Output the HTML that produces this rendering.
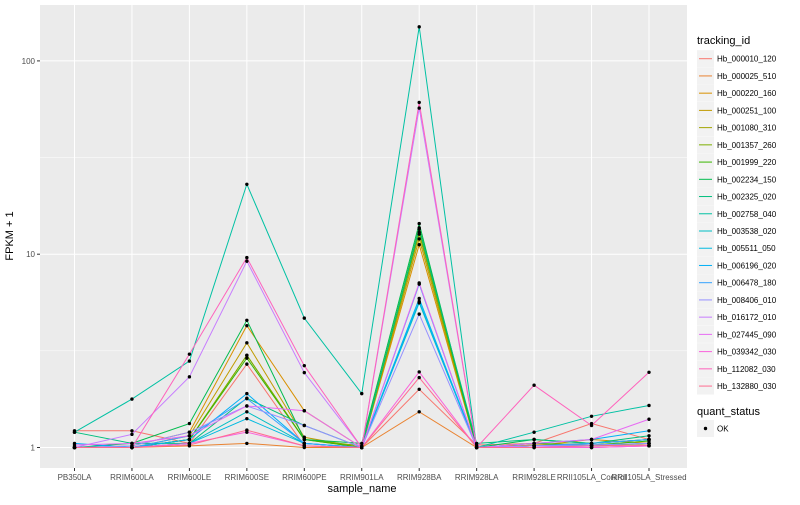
<!DOCTYPE html>
<html><head><meta charset="utf-8"><style>
body{margin:0;background:#fff;font-family:"Liberation Sans",sans-serif}
</style></head><body>
<svg id="chart" width="800" height="500" xmlns="http://www.w3.org/2000/svg" font-family="Liberation Sans, sans-serif">
<rect x="40" y="5" width="647" height="463" fill="#EBEBEB"/>
<g id="grid"></g><g id="lines"></g><g id="pts"></g><g id="axes"></g><g id="legend"></g>
<text x="13" y="236" transform="rotate(-90 13 236)" text-anchor="middle" font-size="11">FPKM + 1</text>
<text x="362" y="492" text-anchor="middle" font-size="11">sample_name</text>
</svg>
<script>
const categories=["PB350LA","RRIM600LA","RRIM600LE","RRIM600SE","RRIM600PE","RRIM901LA","RRIM928BA","RRIM928LA","RRIM928LE","RRII105LA_Control","RRII105LA_Stressed"];
const seriesNames=["Hb_000010_120","Hb_000025_510","Hb_000220_160","Hb_000251_100","Hb_001080_310","Hb_001357_260","Hb_001999_220","Hb_002234_150","Hb_002325_020","Hb_002758_040","Hb_003538_020","Hb_005511_050","Hb_006196_020","Hb_006478_180","Hb_008406_010","Hb_016172_010","Hb_027445_090","Hb_039342_030","Hb_112082_030","Hb_132880_030"];
const colors=["#F8766D","#EA8331","#D89000","#C09B00","#A3A500","#7CAE00","#39B600","#00BB4E","#00BF7D","#00C1A3","#00BFC4","#00BAE0","#00B0F6","#35A2FF","#9590FF","#C77CFF","#E76BF3","#FA62DB","#FF62BC","#FF6C91"];
const s0=[1.22,1.22,1.05,2.7,1.02,1.0,2.0,1.03,1.05,1.33,1.1];
const s1=[1.0,1.0,1.02,1.05,1.0,1.0,1.53,1.0,1.0,1.0,1.02];
const s2=[1.0,1.02,1.2,4.27,1.55,1.0,11.2,1.0,1.02,1.1,1.05];
const s3=[1.0,1.0,1.15,3.48,1.13,1.0,12.0,1.0,1.03,1.05,1.1];
const s4=[1.0,1.0,1.1,3.0,1.1,1.0,12.7,1.0,1.02,1.02,1.05];
const s5=[1.0,1.0,1.1,3.0,1.1,1.02,13.0,1.0,1.02,1.02,1.05];
const s6=[1.0,1.0,1.1,2.9,1.1,1.0,13.7,1.0,1.05,1.03,1.08];
const s7=[1.0,1.05,1.33,4.55,1.1,1.05,14.4,1.0,1.1,1.05,1.1];
const s8=[1.2,1.05,1.05,1.8,1.3,1.0,13.5,1.05,1.1,1.05,1.15];
const s9=[1.2,1.78,2.8,23,4.67,1.9,150,1.0,1.2,1.45,1.65];
const s10=[1.0,1.0,1.05,1.53,1.05,1.0,5.6,1.0,1.02,1.05,1.1];
const s11=[1.0,1.0,1.05,1.41,1.05,1.0,5.7,1.0,1.02,1.03,1.05];
const s12=[1.05,1.0,1.1,1.9,1.05,1.0,5.9,1.0,1.05,1.1,1.22];
const s13=[1.0,1.0,1.15,1.79,1.05,1.0,7.0,1.0,1.02,1.05,1.1];
const s14=[1.0,1.02,1.2,1.64,1.3,1.0,4.9,1.0,1.02,1.03,1.05];
const s15=[1.0,1.17,2.32,9.2,2.44,1.0,57,1.0,1.02,1.0,1.02];
const s16=[1.03,1.05,1.15,1.64,1.55,1.0,7.1,1.0,1.05,1.1,1.4];
const s17=[1.0,1.0,1.05,1.2,1.02,1.0,2.46,1.0,1.0,1.0,1.02];
const s18=[1.0,1.0,3.04,9.6,2.65,1.0,61,1.0,2.1,1.3,2.45];
const s19=[1.0,1.0,1.03,1.23,1.02,1.0,2.3,1.0,1.0,1.02,1.03];
const seriesValues=[s0,s1,s2,s3,s4,s5,s6,s7,s8,s9,s10,s11,s12,s13,s14,s15,s16,s17,s18,s19];
const yTicks=[1,10,100];
const yTickLabels=["1","10","100"];
const yMinor=[Math.sqrt(10),Math.sqrt(1000)];

const NS="http://www.w3.org/2000/svg";
function xs(i){return 74.5+i*(649-74.5)/(categories.length-1);}
function ys(v){return 447.5-193.3*Math.log10(v);}
function mk(tag,attrs,parent){const e=document.createElementNS(NS,tag);for(const k in attrs)e.setAttribute(k,attrs[k]);parent.appendChild(e);return e;}
const grid=document.getElementById('grid'),lines=document.getElementById('lines'),pts=document.getElementById('pts'),axes=document.getElementById('axes'),leg=document.getElementById('legend');
yMinor.forEach(v=>{const l=mk('line',{x1:40,x2:687,y1:ys(v),y2:ys(v),stroke:'#fff','stroke-width':0.5},grid);

});
yTicks.forEach((v,i)=>{const l=mk('line',{x1:40,x2:687,y1:ys(v),y2:ys(v),stroke:'#fff','stroke-width':1},grid);


const tk=mk('line',{x1:37,x2:40,y1:ys(v),y2:ys(v),stroke:'#333'},axes);


const t=mk('text',{x:35,y:ys(v)+3,'text-anchor':'end','font-size':8,fill:'#4D4D4D'},axes);t.textContent=yTickLabels[i];

});
categories.forEach((c,i)=>{const l=mk('line',{x1:xs(i),x2:xs(i),y1:5,y2:468,stroke:'#fff','stroke-width':1},grid);


const tk=mk('line',{x1:xs(i),x2:xs(i),y1:468,y2:471,stroke:'#333'},axes);


const t=mk('text',{x:xs(i),y:480,'text-anchor':'middle','font-size':8,fill:'#4D4D4D'},axes);t.textContent=c;

});
seriesValues.forEach((vals,si)=>{const p=mk('polyline',{points:vals.map((v,i)=>xs(i)+','+ys(v)).join(' '),fill:'none',stroke:colors[si],'stroke-width':1},lines);


vals.forEach((v,i)=>{const c=mk('circle',{cx:xs(i),cy:ys(v),r:1.7,fill:'#000'},pts);

});});
const lt=mk('text',{x:697,y:44,'font-size':11},leg);lt.textContent='tracking_id';


seriesNames.forEach((n,i)=>{const y=58.7+i*17.23;
const g=mk('g',{},leg);


mk('rect',{x:697,y:y-8.5,width:17,height:17,fill:'#F2F2F2'},g);
mk('line',{x1:699,x2:712,y1:y,y2:y,stroke:colors[i],'stroke-width':1},g);
const t=mk('text',{x:717,y:y+3,'font-size':8},g);t.textContent=n;});
const qt=mk('text',{x:697,y:415,'font-size':11},leg);qt.textContent='quant_status';


const qg=mk('g',{},leg);


mk('rect',{x:697,y:420,width:17,height:17,fill:'#F2F2F2'},qg);
mk('circle',{cx:705.5,cy:428.5,r:1.7,fill:'#000'},qg);
const ok=mk('text',{x:717,y:431.5,'font-size':8},qg);ok.textContent='OK';
</script>
</body></html>
